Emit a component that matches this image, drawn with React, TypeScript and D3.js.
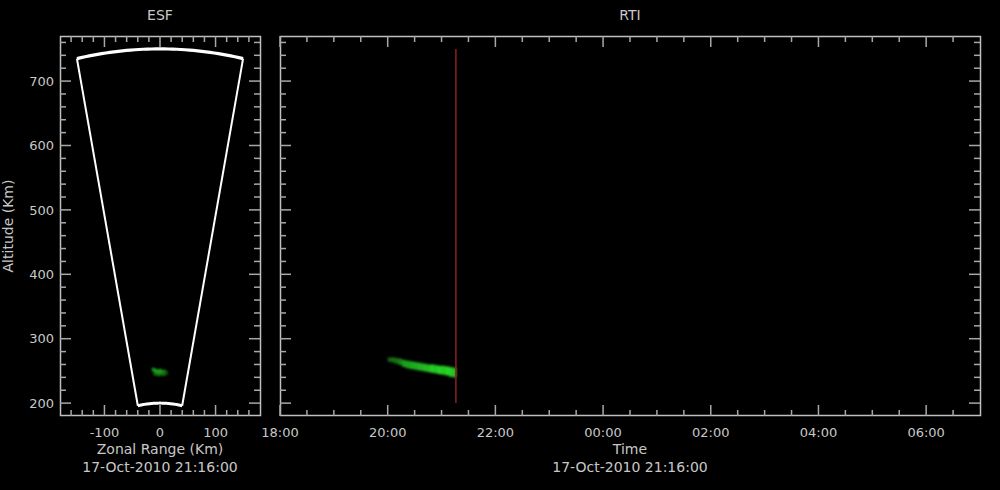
import * as d3 from "d3";

// ── Axis domains ────────────────────────────────────────────────────────────
const altDomain = [180, 770];
const zonalDomain = [-180, 180];
const timeDomain = [new Date(2010, 9, 17, 18, 0), new Date(2010, 9, 18, 7, 0)];

const altMajor = [200, 300, 400, 500, 600, 700];
const zonalMajor = [-100, 0, 100];
const timeLabels = ["18:00", "20:00", "22:00", "00:00", "02:00", "04:00", "06:00"];

// Radar beam sector (range km, half-angle deg)
const beamRanges = [200, 750];
const beamHalfAngle = 11.5;

// Current profile time
const nowTime = new Date(2010, 9, 17, 21, 16);
const nowLabel = "17-Oct-2010 21:16:00";

// ESF echo patches: zonal km, altitude km, intensity
const esfX = [-12, -8, -4, 0, 4, 8, 11, -9, -3, 3, 7];
const esfAlt = [252, 250, 248, 250, 248, 249, 247, 246, 245, 246, 245];
const esfVal = [0.6, 0.8, 0.85, 0.75, 0.8, 0.6, 0.4, 0.5, 0.55, 0.6, 0.45];

// RTI echo columns (4 min wide): start minute after 20:00, lower/upper altitude, intensity
const rtiMin = [0, 4, 8, 12, 16, 20, 24, 28, 32, 36, 40, 44, 48, 52, 56, 60, 64, 68, 72];
const rtiLo = [264, 263, 261, 259, 256, 254, 253, 252, 251, 250, 249, 248, 247, 246, 245, 244, 243, 241, 240];
const rtiHi = [271, 271, 270, 269, 267, 266, 265, 264, 263, 262, 261, 260, 260, 259, 258, 258, 257, 256, 255];
const rtiVal = [0.45, 0.5, 0.5, 0.6, 0.7, 0.72, 0.75, 0.78, 0.8, 0.8, 0.85, 0.88, 0.92, 0.9, 0.95, 0.9, 0.95, 0.92, 0.88];

const TEXT = "#c8c8c8";
const SPINE = "#c0c0c0";
const TICK = "#a8a8a8";
const FONT = "DejaVu Sans, sans-serif";
const MAJ = 11;
const MIN = 6;

const greenScale = d3.interpolateRgb("#000000", "#28e028");

export default function App() {
  const W = 1000;
  const H = 490;
  const top = 36;
  const bottom = 416;

  const yAlt = d3.scaleLinear().domain(altDomain).range([bottom, top]);
  const xZ = d3.scaleLinear().domain(zonalDomain).range([60, 260]);
  const xT = d3.scaleTime().domain(timeDomain).range([280, 980]);

  const altMinor = d3.range(200, 770, 20).filter((v) => !altMajor.includes(v));
  const zonalMinor = d3.range(-160, 161, 20).filter((v) => !zonalMajor.includes(v));
  const timeMajor = d3.timeHour.every(2)!.range(timeDomain[0], timeDomain[1]);
  const timeMinor = d3.timeMinute.every(30)!.range(timeDomain[0], timeDomain[1])
    .filter((d) => !(d.getMinutes() === 0 && d.getHours() % 2 === 0));

  // Beam sector outline
  const toXY = (r: number, deg: number): [number, number] => {
    const a = (deg * Math.PI) / 180;
    return [xZ(r * Math.sin(a)), yAlt(r * Math.cos(a))];
  };
  const angles = d3.range(-beamHalfAngle, beamHalfAngle + 0.01, beamHalfAngle / 20);
  const line = d3.line();
  const topArc = line(angles.map((a) => toXY(beamRanges[1], a)))!;
  const botArc = line(angles.map((a) => toXY(beamRanges[0], a)))!;
  const leftSide = line([toXY(beamRanges[0], -beamHalfAngle), toXY(beamRanges[1], -beamHalfAngle)])!;
  const rightSide = line([toXY(beamRanges[0], beamHalfAngle), toXY(beamRanges[1], beamHalfAngle)])!;

  const frame = (x0: number, x1: number) => (
    <rect x={x0 + 0.5} y={top + 0.5} width={x1 - x0 - 1} height={bottom - top - 1}
      fill="none" stroke={SPINE} strokeWidth={1.5} />
  );

  const yTicks = (x0: number, x1: number) => (
    <g stroke={TICK} strokeWidth={1.5}>
      {altMajor.map((v) => (
        <g key={"M" + v}>
          <line x1={x0} x2={x0 + MAJ} y1={yAlt(v)} y2={yAlt(v)} />
          <line x1={x1} x2={x1 - MAJ} y1={yAlt(v)} y2={yAlt(v)} />
        </g>
      ))}
      {altMinor.map((v) => (
        <g key={"m" + v}>
          <line x1={x0} x2={x0 + MIN} y1={yAlt(v)} y2={yAlt(v)} />
          <line x1={x1} x2={x1 - MIN} y1={yAlt(v)} y2={yAlt(v)} />
        </g>
      ))}
    </g>
  );

  const xTicks = (xs: number[], len: number, k: string) => (
    <g stroke={TICK} strokeWidth={1.5}>
      {xs.map((x, i) => (
        <g key={k + i}>
          <line x1={x} x2={x} y1={top} y2={top + len} />
          <line x1={x} x2={x} y1={bottom} y2={bottom - len} />
        </g>
      ))}
    </g>
  );

  const colW = xT(new Date(2010, 9, 17, 20, 4)) - xT(new Date(2010, 9, 17, 20, 0));

  return (
    <div style={{ position: "fixed", left: 0, top: 0, width: W, height: H, background: "#000" }}>
      <svg width={W} height={H} style={{ display: "block", background: "#000" }} fontFamily={FONT}>
        <defs>
          <filter id="soft" x="-50%" y="-50%" width="200%" height="200%">
            <feGaussianBlur stdDeviation={0.9} />
          </filter>
        </defs>

        {/* Titles */}
        <text x={160} y={20} textAnchor="middle" fill={TEXT} fontSize={14}>ESF</text>
        <text x={630} y={20} textAnchor="middle" fill={TEXT} fontSize={14}>RTI</text>

        {/* ── ESF panel ── */}
        <g filter="url(#soft)">
          {esfX.map((x, i) => (
            <rect key={i} x={xZ(x - 3)} y={yAlt(esfAlt[i] + 3)}
              width={xZ(3) - xZ(-3)} height={yAlt(esfAlt[i] - 3) - yAlt(esfAlt[i] + 3)}
              fill={greenScale(esfVal[i])} />
          ))}
        </g>
        <g fill="none" stroke="#fff" strokeLinejoin="round">
          <path d={topArc} strokeWidth={3.2} />
          <path d={botArc} strokeWidth={3} />
          <path d={leftSide} strokeWidth={2} />
          <path d={rightSide} strokeWidth={2} />
        </g>
        {frame(60, 261)}
        {yTicks(60, 260)}
        {xTicks(zonalMajor.map(xZ), MAJ, "zM")}
        {xTicks(zonalMinor.map(xZ), MIN, "zm")}
        <g fill={TEXT} fontSize={13} textAnchor="end">
          {altMajor.map((v) => (
            <text key={v} x={54} y={yAlt(v)} dy="0.36em">{v}</text>
          ))}
        </g>
        <g fill={TEXT} fontSize={13} textAnchor="middle">
          {zonalMajor.map((v) => (
            <text key={v} x={xZ(v)} y={437}>{v}</text>
          ))}
        </g>
        <text x={160} y={454} textAnchor="middle" fill={TEXT} fontSize={14}>Zonal Range (Km)</text>
        <text x={160} y={472} textAnchor="middle" fill={TEXT} fontSize={14}>{nowLabel}</text>
        <text transform={`translate(13,${(top + bottom) / 2}) rotate(-90)`} textAnchor="middle"
          fill={TEXT} fontSize={14}>Altitude (Km)</text>

        {/* ── RTI panel ── */}
        <g filter="url(#soft)">
          {rtiMin.map((m, i) => {
            const t = new Date(2010, 9, 17, 20, m);
            return (
              <rect key={i} x={xT(t)} y={yAlt(rtiHi[i])} width={colW + 0.4}
                height={yAlt(rtiLo[i]) - yAlt(rtiHi[i])}
                fill={greenScale(rtiVal[i])} />
            );
          })}
        </g>
        <line x1={xT(nowTime)} x2={xT(nowTime)} y1={yAlt(beamRanges[1])} y2={yAlt(beamRanges[0])}
          stroke="#8e1f22" strokeWidth={1.5} />
        {frame(280, 981)}
        {yTicks(280, 980)}
        {xTicks(timeMajor.map(xT), MAJ, "tM")}
        {xTicks(timeMinor.map(xT), MIN, "tm")}
        <g fill={TEXT} fontSize={13} textAnchor="middle">
          {timeMajor.map((d, i) => (
            <text key={i} x={xT(d)} y={437}>{timeLabels[i]}</text>
          ))}
        </g>
        <text x={630} y={454} textAnchor="middle" fill={TEXT} fontSize={14}>Time</text>
        <text x={630} y={472} textAnchor="middle" fill={TEXT} fontSize={14}>{nowLabel}</text>
      </svg>
    </div>
  );
}
